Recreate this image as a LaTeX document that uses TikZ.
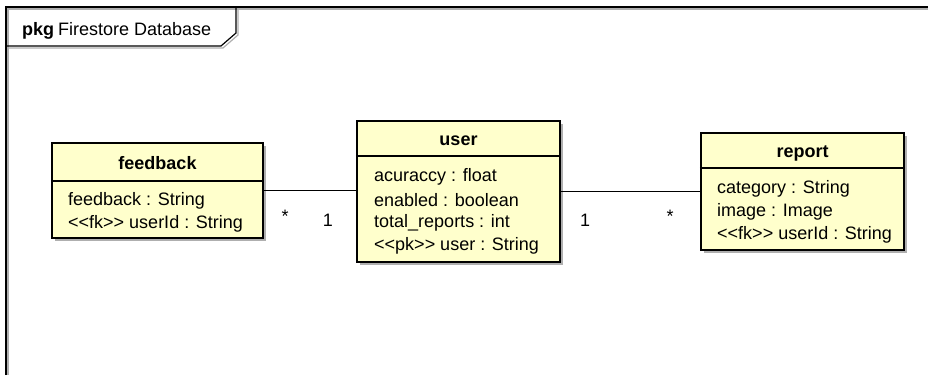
\documentclass[tikz,border=0pt]{standalone}
\usepackage{fontspec}
\setmainfont{Liberation Sans}
\usetikzlibrary{shadows}
\definecolor{classfill}{RGB}{255,255,204}
\definecolor{shadowgray}{RGB}{175,175,175}
\tikzset{
  classbox/.style={draw=black, line width=2.4pt, fill=classfill, inner sep=0pt,
    drop shadow={shadow xshift=3pt, shadow yshift=-3pt, fill=shadowgray, opacity=1}},
  divider/.style={line width=1.2pt},
  title/.style={font=\fontsize{18}{21}\selectfont\bfseries, inner sep=0pt},
  attr/.style={font=\fontsize{18}{21}\selectfont, inner sep=0pt, anchor=west},
  mult/.style={font=\fontsize{18}{21}\selectfont, inner sep=0pt},
  assoc/.style={line width=1pt},
  frameline/.style={line width=1.5pt}
}
\begin{document}
\begin{tikzpicture}[x=1pt, y=-1pt]
\useasboundingbox (0,0) rectangle (928,375);

% package frame with its name tab
\draw[shadowgray, line width=1.5pt] (8,375) -- (8,9) -- (928,9);
\draw[shadowgray, line width=1.2pt] (238,9) -- (238,35) -- (223,48) -- (8,48);
\draw[frameline] (6,375) -- (6,7) -- (928,7);
\draw[line width=1.2pt] (236,7) -- (236,33) -- (221,46) -- (6,46);
\node[anchor=base west, inner sep=0pt] (pkgname) at (22,35)
  {\fontsize{18}{21}\selectfont\textbf{pkg}\hspace{4pt}Firestore Database};

% class feedback
\node[classbox, minimum width=211pt, minimum height=95pt] (fb) at (157.5,190.5) {};
\draw[divider] (fb.west |- 0,181) -- (fb.east |- 0,181);
\node[title] (fbt) at (157.5,163) {feedback};
\node[attr] (fba1) at (68,201) {feedback : String};
\node[attr] (fba2) at (68,224) {<{}<fk>{}> userId : String};

% class user
\node[classbox, minimum width=203pt, minimum height=141pt] (usr) at (458.5,191.5) {};
\draw[divider] (usr.west |- 0,156) -- (usr.east |- 0,156);
\node[title] (usrt) at (458.5,141) {user};
\node[attr] (ua1) at (374,177) {acuraccy : float};
\node[attr] (ua2) at (374,200) {enabled : boolean};
\node[attr] (ua3) at (374,223) {total\_reports : int};
\node[attr] (ua4) at (374,246) {<{}<pk>{}> user : String};

% class report
\node[classbox, minimum width=203pt, minimum height=117pt] (rep) at (802.5,191.5) {};
\draw[divider] (rep.west |- 0,168) -- (rep.east |- 0,168);
\node[title] (rept) at (802.5,153) {report};
\node[attr] (ra1) at (717,189) {category : String};
\node[attr] (ra2) at (717,212) {image : Image};
\node[attr] (ra3) at (717,235) {<{}<fk>{}> userId : String};

% associations
\draw[assoc] (fb.east) -- (fb.east -| usr.west);
\draw[assoc] (usr.east) -- (usr.east -| rep.west);

% multiplicities
\node[mult] (m1) at (285,216) {*};
\node[mult] (m2) at (328,220) {1};
\node[mult] (m3) at (585,220) {1};
\node[mult] (m4) at (670,216) {*};
\end{tikzpicture}
\end{document}
